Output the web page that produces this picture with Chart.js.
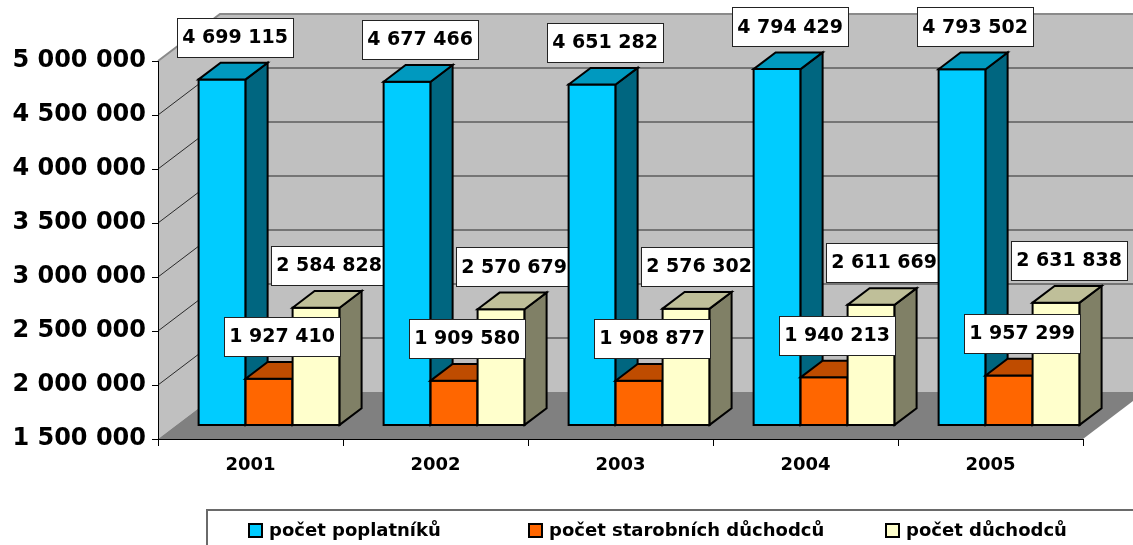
<!DOCTYPE html>
<html lang="cs">
<head>
<meta charset="utf-8" />
<title>Počet poplatníků a důchodců 2001–2005</title>
<script src="https://cdn.jsdelivr.net/npm/chart.js@4.4.1/dist/chart.umd.min.js"></script>
<style>
  html, body { margin: 0; padding: 0; background: #fff; }
  #chart { display: block; }
</style>
</head>
<body>
<canvas id="chart" width="1133" height="545"></canvas>
<script>
// ---------- data ----------
const years = ["2001", "2002", "2003", "2004", "2005"];
const seriesNames = ["počet poplatníků", "počet starobních důchodců", "počet důchodců"];
const poplatnici = [4699115, 4677466, 4651282, 4794429, 4793502];
const starobniDuchodci = [1927410, 1909580, 1908877, 1940213, 1957299];
const duchodci = [2584828, 2570679, 2576302, 2611669, 2631838];

const Y_MIN = 1500000;
const Y_MAX = 5000000;
const Y_STEP = 500000;

// ---------- look ----------
const FONT = "'DejaVu Sans', Verdana, sans-serif";
const FRONT = ["#00CCFF", "#FF6600", "#FFFFCC"];
const TOP = ["#0099BF", "#BF4C00", "#BFBF99"];
const SIDE = ["#006680", "#803300", "#808066"];

// depth of the whole "room" and of one bar (Excel-like oblique 3D)
const WALL_DX = 62, WALL_DY = -47;
const BAR_FRONT = 0.3;     // bars start 30 % into the depth
const BAR_DEPTH = 0.355;   // and are this deep
const LABEL_LIFT = 34;

const LEGEND_X = [248, 528, 885];

function fmt(v) {
  return String(v).replace(/\B(?=(\d{3})+(?!\d))/g, " ");
}

function poly(ctx, pts, fill, stroke, lw) {
  ctx.beginPath();
  ctx.moveTo(pts[0][0], pts[0][1]);
  for (let i = 1; i < pts.length; i++) ctx.lineTo(pts[i][0], pts[i][1]);
  ctx.closePath();
  if (fill) { ctx.fillStyle = fill; ctx.fill(); }
  if (stroke) { ctx.strokeStyle = stroke; ctx.lineWidth = lw || 1; ctx.stroke(); }
}

// ---------- walls, floor, gridlines ----------
const roomPlugin = {
  id: "room",
  beforeDraw(chart) {
    const { ctx, chartArea: a, scales } = chart;
    const y = scales.y;
    const l = a.left, r = a.right, t = a.top, b = a.bottom;
    ctx.save();
    // side wall
    poly(ctx, [[l, b], [l, t], [l + WALL_DX, t + WALL_DY], [l + WALL_DX, b + WALL_DY]], "#C0C0C0");
    // back wall
    poly(ctx, [[l + WALL_DX, t + WALL_DY], [r + WALL_DX, t + WALL_DY], [r + WALL_DX, b + WALL_DY], [l + WALL_DX, b + WALL_DY]], "#C0C0C0");
    // gridlines on both walls
    y.ticks.forEach(tk => {
      if (tk.value <= Y_MIN || tk.value >= Y_MAX) return;
      const py = y.getPixelForValue(tk.value);
      ctx.beginPath();
      ctx.moveTo(l, py);
      ctx.lineTo(l + WALL_DX, py + WALL_DY);
      ctx.lineTo(r + WALL_DX, py + WALL_DY);
      ctx.strokeStyle = "#2a2a2a";
      ctx.lineWidth = 1;
      ctx.stroke();
    });
    // top edge of the walls
    ctx.beginPath();
    ctx.moveTo(l, t);
    ctx.lineTo(l + WALL_DX, t + WALL_DY);
    ctx.lineTo(r + WALL_DX, t + WALL_DY);
    ctx.strokeStyle = "#8a8a8a";
    ctx.lineWidth = 2;
    ctx.stroke();
    // floor
    poly(ctx, [[l, b], [r, b], [r + WALL_DX, b + WALL_DY], [l + WALL_DX, b + WALL_DY]], "#808080");
    ctx.restore();
  },

  // ---------- 3D bars + value labels ----------
  afterDatasetsDraw(chart) {
    const { ctx } = chart;
    const y = chart.scales.y;
    const floorY = y.getPixelForValue(y.min);
    const fx = WALL_DX * BAR_FRONT, fy = WALL_DY * BAR_FRONT;
    const dx = WALL_DX * BAR_DEPTH, dy = WALL_DY * BAR_DEPTH;
    const n = chart.data.labels.length;
    ctx.save();
    ctx.lineJoin = "miter";
    for (let i = 0; i < n; i++) {
      const boxes = chart.data.datasets.map((ds, d) => {
        const el = chart.getDatasetMeta(d).data[i];
        const x0 = el.x - el.width / 2 + fx, x1 = x0 + el.width;
        const yt = el.y + fy, yb = Math.min(el.base, floorY) + fy;
        poly(ctx, [[x0, yt], [x1, yt], [x1, yb], [x0, yb]], FRONT[d], "#000", 2);
        poly(ctx, [[x1, yt], [x1 + dx, yt + dy], [x1 + dx, yb + dy], [x1, yb]], SIDE[d], "#000", 2);
        poly(ctx, [[x0, yt], [x0 + dx, yt + dy], [x1 + dx, yt + dy], [x1, yt]], TOP[d], "#000", 2);
        return { cx: (x0 + x1) / 2 + dx / 2 + 2, cy: yt + dy / 2 - LABEL_LIFT, value: ds.data[i] };
      });
      // labels sit over this year's bars but under the next year's
      ctx.font = "bold 19px " + FONT;
      ctx.textAlign = "center";
      ctx.textBaseline = "middle";
      boxes.forEach(bx => {
        const txt = fmt(bx.value);
        const w = Math.round(ctx.measureText(txt).width + 10), h = 39;
        const left = Math.round(bx.cx - w / 2) + 0.5, top = Math.round(bx.cy - h / 2) + 0.5;
        ctx.fillStyle = "#fff";
        ctx.fillRect(left, top, w, h);
        ctx.strokeStyle = "#222";
        ctx.lineWidth = 1;
        ctx.strokeRect(left, top, w, h);
        ctx.fillStyle = "#000";
        ctx.fillText(txt, bx.cx, bx.cy + 1);
      });
    }
    ctx.restore();
  },

  // ---------- legend ----------
  afterDraw(chart) {
    const { ctx, width, height } = chart;
    ctx.save();
    ctx.beginPath();
    ctx.moveTo(207, height);
    ctx.lineTo(207, 510);
    ctx.lineTo(width, 510);
    ctx.strokeStyle = "#6a6a6a";
    ctx.lineWidth = 2;
    ctx.stroke();
    ctx.font = "bold 18px " + FONT;
    ctx.textAlign = "left";
    ctx.textBaseline = "alphabetic";
    chart.data.datasets.forEach((ds, d) => {
      const x = LEGEND_X[d];
      ctx.fillStyle = FRONT[d];
      ctx.fillRect(x, 523, 15, 15);
      ctx.strokeStyle = "#000";
      ctx.lineWidth = 2;
      ctx.strokeRect(x + 1, 524, 13, 13);
      ctx.fillStyle = "#000";
      ctx.fillText(ds.label, x + 21, 536);
    });
    ctx.restore();
  }
};

// ---------- chart ----------
const tickFont = size => ({ family: FONT, size, weight: "bold" });

new Chart(document.getElementById("chart"), {
  type: "bar",
  data: {
    labels: years,
    datasets: [
      { label: seriesNames[0], data: poplatnici },
      { label: seriesNames[1], data: starobniDuchodci },
      { label: seriesNames[2], data: duchodci }
    ].map(ds => ({ ...ds, backgroundColor: "transparent", borderWidth: 0 }))
  },
  options: {
    responsive: false,
    animation: false,
    layout: { padding: { left: 0, top: 61, right: 50, bottom: 0 } },
    datasets: { bar: { categoryPercentage: 0.762, barPercentage: 1 } },
    plugins: { legend: { display: false }, tooltip: { enabled: false } },
    scales: {
      x: {
        grid: { offset: true, drawOnChartArea: false, tickLength: 7, color: "#000" },
        border: { color: "#000", width: 1 },
        ticks: { color: "#000", font: tickFont(18), padding: 9 },
        afterFit: s => { s.height = 106; }
      },
      y: {
        min: Y_MIN,
        max: Y_MAX,
        grid: { drawOnChartArea: false, tickLength: 6, color: "#000" },
        border: { color: "#000", width: 1 },
        ticks: { stepSize: Y_STEP, color: "#000", font: tickFont(24), padding: 6, callback: v => fmt(v) },
        afterFit: s => { s.width = 158; }
      }
    }
  },
  plugins: [roomPlugin]
});
</script>
</body>
</html>
